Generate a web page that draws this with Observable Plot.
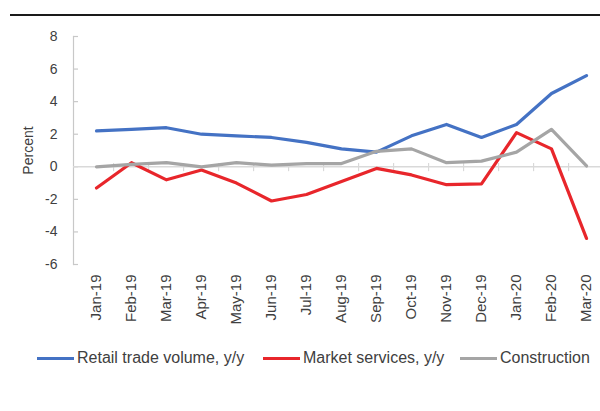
<!DOCTYPE html>
<html>
<head>
<meta charset="utf-8">
<script src="https://cdn.jsdelivr.net/npm/d3@7"></script>
<script src="https://cdn.jsdelivr.net/npm/@observablehq/plot@0.6"></script>
<style>
  html, body { margin: 0; padding: 0; background: #fff; }
  body { width: 600px; height: 411px; position: relative; overflow: hidden; font-family: "Liberation Sans", Arial, sans-serif; }
  #topline { position: absolute; left: 10px; top: 14px; width: 590px; height: 0; border-top: 2px solid #1a1a1a; }
  #chart { position: absolute; left: 0; top: 0; }
  .leg { position: absolute; top: 349px; display: flex; align-items: center; font-size: 16px; color: #404040; white-space: nowrap; }
  .sw { width: 37px; height: 3px; margin-right: 3px; }
</style>
</head>
<body>
<div id="chart"></div>
<div id="topline"></div>
<div id="legend"></div>
<script>
const months = ["Jan-19","Feb-19","Mar-19","Apr-19","May-19","Jun-19","Jul-19","Aug-19","Sep-19","Oct-19","Nov-19","Dec-19","Jan-20","Feb-20","Mar-20"];
const retail = [2.2, 2.3, 2.4, 2.0, 1.9, 1.8, 1.5, 1.1, 0.9, 1.9, 2.6, 1.8, 2.6, 4.5, 5.6];
const market = [-1.3, 0.25, -0.8, -0.2, -1.0, -2.1, -1.7, -0.9, -0.1, -0.5, -1.1, -1.05, 2.1, 1.1, -4.4];
const construction = [0.0, 0.15, 0.25, 0.0, 0.25, 0.1, 0.2, 0.2, 0.95, 1.1, 0.25, 0.35, 0.9, 2.3, 0.05];
const seriesNames = ["Retail trade volume, y/y", "Market services, y/y", "Construction"];
const seriesColors = ["#4472c4", "#e8262b", "#a5a5a5"];
const yTicks = [-6, -4, -2, 0, 2, 4, 6, 8];

const allSeries = [retail, market, construction];
const rows = [];
allSeries.forEach((vals, si) => vals.forEach((v, i) => rows.push({month: months[i], value: v, series: seriesNames[si]})));

const step = (592 - 90) / (months.length - 1);

const chart = Plot.plot({
  width: 600,
  height: 340,
  marginTop: 36,
  marginBottom: 76,
  marginLeft: 73,
  marginRight: 0,
  style: {fontFamily: "'Liberation Sans', Arial, sans-serif", background: "transparent"},
  x: {type: "point", domain: months, range: [90, 592], padding: 0},
  y: {domain: [-6, 8]},
  color: {domain: seriesNames, range: seriesColors},
  marks: [
    Plot.frame({anchor: "left", stroke: "#c8c8c8", strokeWidth: 1.2}),
    Plot.ruleY(yTicks, {y: d => d, insetRight: 600 - 73 - 5, stroke: "#c8c8c8", strokeWidth: 1.2}),
    Plot.axisY({ticks: yTicks, tickSize: 0, tickPadding: 16, fontSize: 14, fill: "#404040", tickFormat: d => String(d),
      label: "Percent", labelAnchor: "center", labelArrow: "none", labelOffset: 50}),
    Plot.ruleY([0], {stroke: "#d9d9d9", strokeWidth: 1.5}),
    Plot.ruleX(months.slice(1), {x: d => d, y1: -0.3, y2: 0.2, dx: -step / 2, stroke: "#d9d9d9", strokeWidth: 1.2}),
    Plot.axisX({tickRotate: -90, tickSize: 0, tickPadding: 10, fontSize: 15, fill: "#404040", label: null}),
    Plot.line(rows, {x: "month", y: "value", z: "series", stroke: "series", strokeWidth: 3.2, strokeLinejoin: "round", strokeLinecap: "round"})
  ]
});
document.getElementById("chart").appendChild(chart);

const legendLefts = [37, 263, 460];
const legend = document.getElementById("legend");
seriesNames.forEach((name, i) => {
  const item = document.createElement("div");
  item.className = "leg";
  item.style.left = legendLefts[i] + "px";
  const sw = document.createElement("span");
  sw.className = "sw";
  sw.style.background = seriesColors[i];
  const tx = document.createElement("span");
  tx.textContent = name;
  item.appendChild(sw);
  item.appendChild(tx);
  legend.appendChild(item);
});
</script>
</body>
</html>
